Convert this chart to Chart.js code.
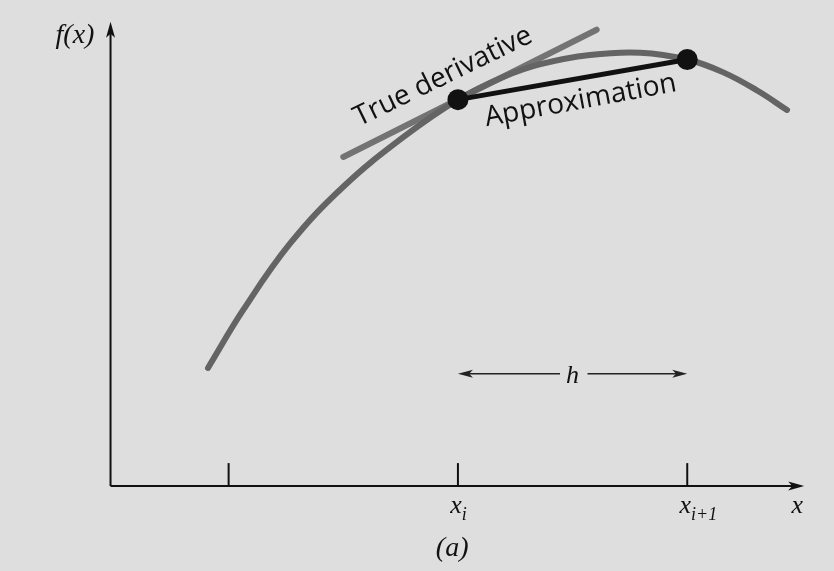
<!DOCTYPE html>
<html>
<head>
<meta charset="utf-8">
<script src="https://cdn.jsdelivr.net/npm/chart.js@4.4.1/dist/chart.umd.min.js"></script>
<style>
body { margin: 0; background: #dedede; }
#caixa { width: 834px; height: 571px; }
</style>
</head>
<body>
<div id="caixa"><canvas id="grafico"></canvas></div>
<script>
// curva f(x)
var curvaX = [0.82, 1.13, 1.54, 2.00, 2.52, 3.00, 3.40, 3.72, 4.15, 4.59, 5.00, 5.31, 5.61, 5.87]
var curvaY = [1.03, 1.54, 2.12, 2.61, 3.04, 3.37, 3.57, 3.68, 3.76, 3.78, 3.72, 3.61, 3.45, 3.28]

// pontos x_i e x_i+1 (aproximacao = secante)
var pontosX = [3, 5]
var pontosY = [3.37, 3.72]

// reta tangente (derivada verdadeira)
var tangenteX = [2.0, 4.21]
var tangenteY = [2.87, 3.98]

// marcas no eixo x
var marcasX = [1, 3, 5]
var marcasSub = ['', 'i', 'i+1']
var alturaMarca = 0.2

// eixos
var eixoOrigem = [-0.03, 0]
var eixoXFim = 6.02
var eixoYFim = 4.05

// seta h
var hInicio = 3.0
var hFim = 5.0
var hAltura = 0.98
var hVao = [3.89, 4.13]

var rotulos = ['True derivative', 'Approximation']

function pares(xs, ys) {
    return xs.map((x, i) => ({ x: x, y: ys[i] }))
}

var datasets = [
    {
        data: pares(pontosX, pontosY), showLine: false,
        pointRadius: 10.5, pointBackgroundColor: '#111', pointBorderWidth: 0, order: 0
    },
    {
        data: pares(pontosX, pontosY), showLine: true, borderColor: '#111',
        borderWidth: 5, pointRadius: 0, order: 1
    },
    {
        data: pares(curvaX, curvaY), showLine: true, borderColor: '#646464',
        borderWidth: 6, pointRadius: 0, tension: 0.4,
        borderCapStyle: 'round', order: 2
    },
    {
        data: pares(tangenteX, tangenteY), showLine: true, borderColor: '#737373',
        borderWidth: 6, pointRadius: 0, borderCapStyle: 'round', order: 3
    },
    {
        data: [{ x: eixoOrigem[0], y: eixoOrigem[1] }, { x: eixoXFim - 0.1, y: 0 }],
        showLine: true, borderColor: '#111', borderWidth: 2, pointRadius: 0, order: 4
    },
    {
        data: [{ x: eixoOrigem[0], y: eixoOrigem[1] }, { x: eixoOrigem[0], y: eixoYFim - 0.1 }],
        showLine: true, borderColor: '#111', borderWidth: 2, pointRadius: 0, order: 4
    },
    {
        data: [{ x: hInicio + 0.05, y: hAltura }, { x: hVao[0], y: hAltura }],
        showLine: true, borderColor: '#222', borderWidth: 1.5, pointRadius: 0, order: 4
    },
    {
        data: [{ x: hVao[1], y: hAltura }, { x: hFim - 0.05, y: hAltura }],
        showLine: true, borderColor: '#222', borderWidth: 1.5, pointRadius: 0, order: 4
    }
]

marcasX.forEach(m => {
    datasets.push({
        data: [{ x: m, y: 0 }, { x: m, y: alturaMarca }],
        showLine: true, borderColor: '#111', borderWidth: 2, pointRadius: 0, order: 4
    })
})

const desenhos = {
    id: 'desenhos',
    beforeDraw(chart) {
        const ctx = chart.ctx
        ctx.save()
        ctx.fillStyle = '#dedede'
        ctx.fillRect(0, 0, chart.width, chart.height)
        ctx.restore()
    },
    afterDatasetsDraw(chart) {
        const ctx = chart.ctx
        const px = v => chart.scales.x.getPixelForValue(v)
        const py = v => chart.scales.y.getPixelForValue(v)

        function seta(x, y, ang, comp, larg, cor) {
            ctx.save()
            ctx.translate(x, y)
            ctx.rotate(ang)
            ctx.fillStyle = cor
            ctx.beginPath()
            ctx.moveTo(0, 0)
            ctx.lineTo(-comp, -larg / 2)
            ctx.lineTo(-comp * 0.75, 0)
            ctx.lineTo(-comp, larg / 2)
            ctx.closePath()
            ctx.fill()
            ctx.restore()
        }

        // pontas dos eixos
        seta(px(eixoXFim), py(0), 0, 16, 9, '#111')
        seta(px(eixoOrigem[0]), py(eixoYFim), -Math.PI / 2, 16, 9, '#111')
        // pontas da seta h
        seta(px(hInicio), py(hAltura), Math.PI, 15, 8, '#222')
        seta(px(hFim), py(hAltura), 0, 15, 8, '#222')

        ctx.save()
        ctx.fillStyle = '#111'
        ctx.textBaseline = 'alphabetic'

        // textos em serifa italico
        ctx.font = 'italic 28px "Liberation Serif", "DejaVu Serif", serif'
        ctx.textAlign = 'center'
        ctx.fillText('f(x)', px(-0.34), py(3.86))
        ctx.font = 'italic 26px "Liberation Serif", "DejaVu Serif", serif'
        ctx.fillText('h', px(4.0), py(0.9))
        ctx.fillText('x', px(5.96), py(-0.235))
        ctx.font = 'italic 28px "Liberation Serif", "DejaVu Serif", serif'
        ctx.fillText('(a)', px(2.95), py(-0.61))

        // rotulos das marcas
        marcasX.forEach((m, i) => {
            if (!marcasSub[i]) return
            ctx.font = 'italic 26px "Liberation Serif", "DejaVu Serif", serif'
            ctx.textAlign = 'left'
            const w = ctx.measureText('x').width
            const x0 = px(m) - w / 2 - 2
            ctx.fillText('x', x0, py(-0.235))
            ctx.font = 'italic 18px "Liberation Serif", "DejaVu Serif", serif'
            ctx.fillText(marcasSub[i], x0 + w, py(-0.235) + 7)
        })

        // rotulos inclinados
        ctx.font = '28px "Open Sans", "DejaVu Sans", sans-serif'
        ctx.textAlign = 'center'
        ctx.textBaseline = 'middle'
        ctx.save()
        ctx.translate(px(2.87), py(3.57))
        ctx.rotate(-26 * Math.PI / 180)
        ctx.fillText(rotulos[0], 0, 0)
        ctx.restore()
        ctx.save()
        ctx.translate(px(4.07), py(3.36))
        ctx.rotate(-10.5 * Math.PI / 180)
        ctx.fillText(rotulos[1], 0, 0)
        ctx.restore()

        ctx.restore()
    }
}

new Chart(document.getElementById('grafico'), {
    type: 'scatter',
    data: { datasets: datasets },
    options: {
        responsive: true,
        maintainAspectRatio: false,
        animation: false,
        layout: { padding: 0, autoPadding: false },
        plugins: { legend: { display: false }, tooltip: { enabled: false } },
        scales: {
            x: { type: 'linear', min: -0.994, max: 6.28, display: false },
            y: { type: 'linear', min: -0.741, max: 4.239, display: false }
        }
    },
    plugins: [desenhos]
})
</script>
</body>
</html>
